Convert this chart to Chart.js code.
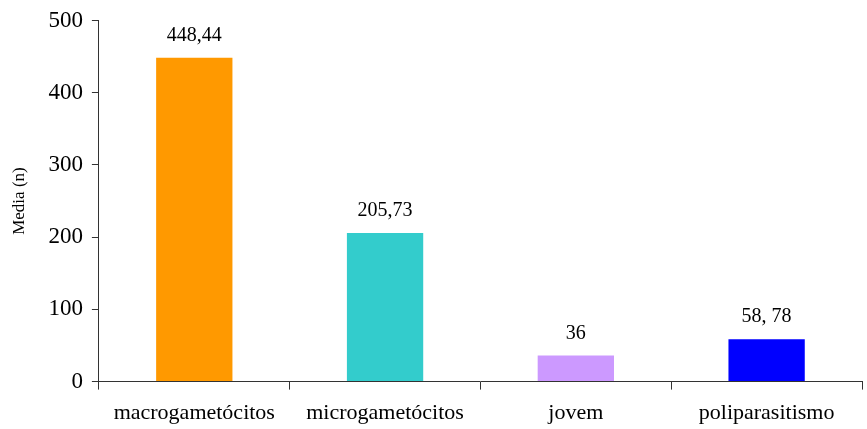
<!DOCTYPE html>
<html>
<head>
<meta charset="utf-8">
<script src="https://cdn.jsdelivr.net/npm/chart.js@4.4.1/dist/chart.umd.min.js"></script>
<style>
  html, body { margin: 0; padding: 0; background: #fff; }
  #wrap { width: 867px; height: 429px; }
</style>
</head>
<body>
<div id="wrap"><canvas id="chart" width="867" height="429"></canvas></div>
<script>
// --- data ---
const categories = ['macrogametócitos', 'microgametócitos', 'jovem', 'poliparasitismo'];
const mediaValues = [448.44, 205.73, 36, 58.78];
const valueLabels = ['448,44', '205,73', '36', '58, 78'];
const barColors = ['#FF9900', '#33CCCC', '#CC99FF', '#0000FF'];
const yTicks = [0, 100, 200, 300, 400, 500];

const serif = "'Liberation Serif', 'Times New Roman', serif";

// value labels above each bar
const barLabelPlugin = {
    id: 'barLabels',
    afterDatasetsDraw(chart) {
        const ctx = chart.ctx;
        const meta = chart.getDatasetMeta(0);
        ctx.save();
        ctx.font = '20px ' + serif;
        ctx.fillStyle = '#000';
        ctx.textAlign = 'center';
        ctx.textBaseline = 'bottom';
        meta.data.forEach((bar, i) => {
            ctx.fillText(valueLabels[i], bar.x, bar.y - 12);
        });
        ctx.restore();
    }
};

new Chart(document.getElementById('chart').getContext('2d'), {
    type: 'bar',
    data: {
        labels: categories,
        datasets: [{
            data: mediaValues,
            backgroundColor: barColors,
            borderWidth: 0,
            categoryPercentage: 1,
            barPercentage: 0.4
        }]
    },
    options: {
        responsive: false,
        animation: false,
        layout: { padding: { top: 8, right: 5, left: 9, bottom: -7 } },
        plugins: {
            legend: { display: false },
            tooltip: { enabled: false }
        },
        scales: {
            x: {
                offset: true,
                grid: { display: true, offset: true, drawOnChartArea: false, drawTicks: true, tickLength: 8, color: '#333' },
                border: { display: true, color: '#333', width: 1 },
                ticks: { color: '#000', font: { family: serif, size: 22 }, padding: 10, maxRotation: 0 }
            },
            y: {
                min: 0,
                max: 500,
                afterBuildTicks(axis) { axis.ticks = yTicks.map(v => ({ value: v })); },
                grid: { display: true, drawOnChartArea: false, drawTicks: true, tickLength: 7, color: '#333' },
                border: { display: true, color: '#333', width: 1 },
                ticks: { color: '#000', font: { family: serif, size: 23, lineHeight: 1 }, padding: 9 },
                title: { display: true, text: 'Media (n)', color: '#000', font: { family: serif, size: 17 }, padding: { top: 0, bottom: 10 } }
            }
        }
    },
    plugins: [barLabelPlugin]
});
</script>
</body>
</html>
